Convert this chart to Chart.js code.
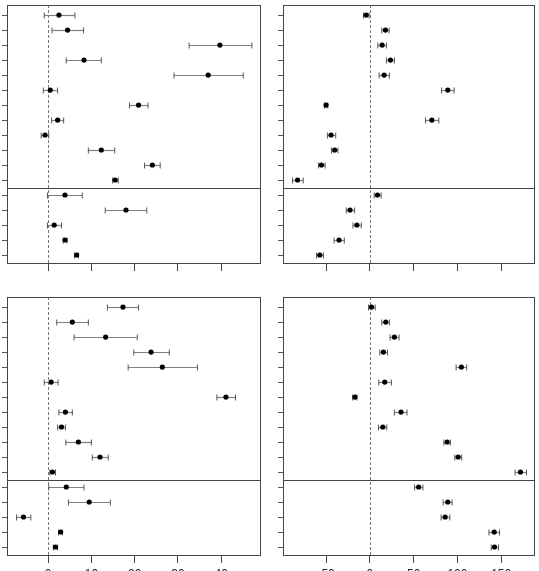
<!DOCTYPE html>
<html>
<head>
<meta charset="utf-8">
<script src="https://cdn.jsdelivr.net/npm/chart.js@4.4.1/dist/chart.umd.min.js"></script>
<style>
  html, body { margin: 0; padding: 0; width: 539px; height: 571px; overflow: hidden; background: #fff; }
  .panel { position: absolute; }
</style>
</head>
<body>
<div class="panel" style="left:0;top:0"><canvas id="topLeft" width="270" height="290"></canvas></div>
<div class="panel" style="left:270px;top:0"><canvas id="topRight" width="269" height="290"></canvas></div>
<div class="panel" style="left:0;top:290px"><canvas id="bottomLeft" width="270" height="290"></canvas></div>
<div class="panel" style="left:270px;top:290px"><canvas id="bottomRight" width="269" height="290"></canvas></div>
<script>
// rows 1..17, top to bottom; rows 1-12 are the first group, 13-17 the second
const rows = [1, 2, 3, 4, 5, 6, 7, 8, 9, 10, 11, 12, 13, 14, 15, 16, 17];
const groupBreak = 12.5;

const leftTicks = [0, 10, 20, 30, 40];
const rightTicks = [-50, 0, 50, 100, 150];

// top left
const tlEst = [2.5, 4.5, 39.7, 8.3, 37.0, 0.5, 20.9, 2.2, -0.7, 12.3, 24.1, 15.5, 3.9, 18.0, 1.4, 3.9, 6.6];
const tlLow = [-0.9, 0.9, 32.6, 4.2, 29.1, -1.1, 18.8, 0.8, -1.6, 9.3, 22.3, 14.9, -0.15, 13.2, -0.15, 3.5, 6.1];
const tlHigh = [6.2, 8.2, 47.1, 12.3, 45.1, 2.2, 23.1, 3.6, 0.15, 15.4, 25.9, 16.2, 7.9, 22.8, 3.1, 4.4, 7.0];

// top right
const trEst = [-4.2, 17.8, 14.0, 23.5, 16.3, 89.0, -50.0, 70.8, -44.3, -40.2, -55.3, -82.6, 8.7, -22.7, -14.8, -35.2, -57.2];
const trLow = [-7.2, 13.6, 9.1, 18.9, 10.6, 81.8, -51.9, 63.6, -48.5, -43.9, -58.7, -88.3, 4.9, -26.9, -19.3, -40.9, -61.0];
const trHigh = [-0.8, 22.0, 18.9, 28.0, 22.3, 96.2, -48.1, 78.8, -39.0, -36.4, -51.1, -76.1, 12.9, -17.4, -9.8, -29.2, -53.0];

// bottom left
const blEst = [17.3, 5.6, 13.3, 23.8, 26.4, 0.7, 41.1, 4.0, 3.1, 7.0, 12.0, 1.0, 4.2, 9.5, -5.7, 2.9, 1.7];
const blLow = [13.7, 2.0, 6.0, 19.8, 18.5, -0.9, 39.0, 2.5, 2.2, 4.1, 10.2, 0.4, 0.15, 4.7, -7.3, 2.4, 1.2];
const blHigh = [20.9, 9.3, 20.6, 28.0, 34.5, 2.3, 43.3, 5.6, 4.0, 10.0, 13.9, 1.7, 8.3, 14.4, -4.0, 3.3, 2.2];

// bottom right
const brEst = [1.9, 18.2, 28.0, 15.5, 104.5, 17.0, -17.0, 35.6, 14.8, 88.3, 100.8, 172.0, 55.7, 89.0, 86.0, 142.0, 142.4];
const brLow = [-1.5, 13.6, 23.1, 11.4, 98.5, 10.2, -19.7, 28.0, 9.8, 84.5, 97.0, 165.9, 51.1, 83.7, 81.4, 136.0, 138.6];
const brHigh = [6.1, 22.3, 33.3, 20.1, 110.6, 24.6, -14.8, 42.4, 19.3, 92.0, 104.9, 178.8, 60.6, 93.9, 91.3, 148.1, 147.0];

const forestPlugin = {
  id: "forest",
  beforeDatasetsDraw(chart, args, opts) {
    const { ctx, chartArea: area, scales: { x, y } } = chart;
    ctx.save();

    // reference line at zero
    const zero = Math.round(x.getPixelForValue(0)) + 0.5;
    ctx.strokeStyle = "#777";
    ctx.lineWidth = 1;
    ctx.setLineDash([3, 2]);
    ctx.beginPath();
    ctx.moveTo(zero, area.top);
    ctx.lineTo(zero, area.bottom);
    ctx.stroke();
    ctx.setLineDash([]);

    // group divider
    const yb = Math.round(y.getPixelForValue(groupBreak)) + 0.5;
    ctx.strokeStyle = "#444";
    ctx.beginPath();
    ctx.moveTo(area.left, yb);
    ctx.lineTo(area.right, yb);
    ctx.stroke();

    // confidence intervals
    opts.low.forEach((lo, i) => {
      const hi = opts.high[i];
      const py = Math.round(y.getPixelForValue(rows[i])) + 0.5;
      const x1 = x.getPixelForValue(lo);
      const x2 = x.getPixelForValue(hi);
      ctx.strokeStyle = "#808080";
      ctx.lineWidth = 1.2;
      ctx.beginPath();
      ctx.moveTo(x1, py);
      ctx.lineTo(x2, py);
      ctx.stroke();
      ctx.strokeStyle = "#555";
      ctx.lineWidth = 1;
      ctx.beginPath();
      ctx.moveTo(x1, py - 3);
      ctx.lineTo(x1, py + 3);
      ctx.moveTo(x2, py - 3);
      ctx.lineTo(x2, py + 3);
      ctx.stroke();
    });
    ctx.restore();
  },
  afterDraw(chart) {
    const { ctx, chartArea: area } = chart;
    ctx.save();
    ctx.strokeStyle = "#444";
    ctx.lineWidth = 1;
    ctx.strokeRect(area.left + 0.5, area.top + 0.5, area.right - area.left - 1, area.bottom - area.top - 1);
    ctx.restore();
  }
};

function buildPanel(id, est, low, high, cfg) {
  const context = document.getElementById(id).getContext("2d");
  return new Chart(context, {
    type: "scatter",
    data: {
      datasets: [{
        data: est.map((v, i) => ({ x: v, y: rows[i] })),
        pointRadius: 2.6,
        pointBackgroundColor: "#000",
        pointBorderWidth: 0
      }]
    },
    options: {
      responsive: false,
      animation: false,
      layout: { padding: { left: 0, top: cfg.top, right: cfg.right, bottom: 0 } },
      plugins: {
        legend: { display: false },
        tooltip: { enabled: false },
        forest: { low, high }
      },
      scales: {
        x: {
          type: "linear",
          min: cfg.min,
          max: cfg.max,
          afterFit: (scale) => { scale.height = cfg.axisH; },
          afterBuildTicks: (scale) => { scale.ticks = cfg.ticks.map((v) => ({ value: v })); },
          border: { display: false },
          grid: { drawOnChartArea: false, drawTicks: true, tickLength: 7, color: "#444" },
          ticks: {
            display: cfg.labels,
            padding: 4,
            color: "#222",
            maxRotation: 0,
            font: { family: "'Liberation Sans', Arial, sans-serif", size: 12 }
          }
        },
        y: {
          type: "linear",
          reverse: true,
          min: 0.33,
          max: 17.6,
          afterFit: (scale) => { scale.width = cfg.axisW; },
          afterBuildTicks: (scale) => { scale.ticks = rows.map((v) => ({ value: v })); },
          border: { display: false },
          grid: { drawOnChartArea: false, drawTicks: true, tickLength: 5, color: "#555" },
          ticks: { display: false }
        }
      }
    },
    plugins: [forestPlugin]
  });
}

buildPanel("topLeft", tlEst, tlLow, tlHigh,
  { min: -9.5, max: 49.2, ticks: leftTicks, labels: false, top: 5, right: 9, axisW: 7, axisH: 26 });
buildPanel("topRight", trEst, trLow, trHigh,
  { min: -99.2, max: 188.6, ticks: rightTicks, labels: false, top: 5, right: 3, axisW: 13, axisH: 26 });
buildPanel("bottomLeft", blEst, blLow, blHigh,
  { min: -9.5, max: 49.2, ticks: leftTicks, labels: true, top: 7, right: 9, axisW: 7, axisH: 24 });
buildPanel("bottomRight", brEst, brLow, brHigh,
  { min: -99.2, max: 188.6, ticks: rightTicks, labels: true, top: 7, right: 3, axisW: 13, axisH: 24 });
</script>
</body>
</html>
